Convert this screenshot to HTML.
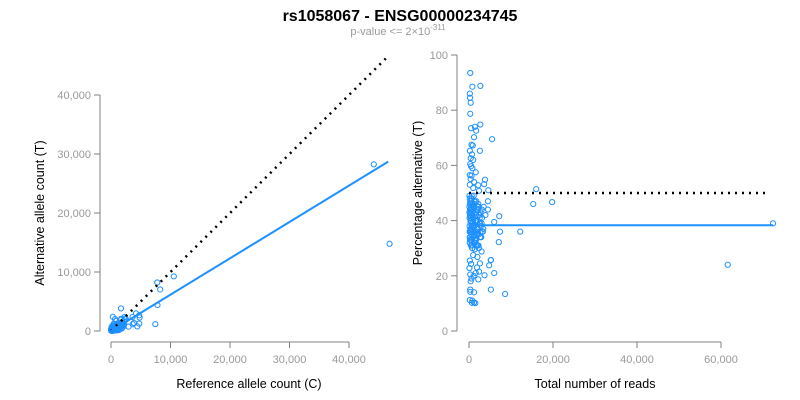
<!DOCTYPE html>
<html><head><meta charset="utf-8">
<style>
html,body{margin:0;padding:0;background:#fff;}
svg{display:block;font-family:"Liberation Sans",Arial,sans-serif;}
</style></head>
<body>
<svg id="chart" width="800" height="400" viewBox="0 0 800 400">
<text x="400" y="21" text-anchor="middle" font-size="16" font-weight="bold" fill="#000">rs1058067 - ENSG00000234745</text>
<text x="398" y="35" text-anchor="middle" font-size="11" fill="#999">p-value &lt;= 2×10<tspan dy="-5" font-size="8">-311</tspan></text>
<g id="left"></g>
<g id="right"></g>
</svg>
<script>
// Data: [total reads, percentage alternative]
const totals = [300,800,2700,200,250,400,300,1400,2700,500,1700,1200,5500,600,900,200,2600,700,400,1000,300,500,800,1600,200,600,400,3800,1200,3600,200,2200,1000,4600,16000,2400,19800,15300,72400,61600,12200,8600,7200,7100,7400,5200,6000,5200,6000,4500,4500,
200,500,2600,5200,4800,1900,100,300,1100,1600,2400,3700,600,2200,400,300,300,1200,200,800,700,1500,1200,2000,1000,3000,1400,
100,150,200,250,300,350,400,450,500,550,600,650,700,750,800,850,900,950,1000,1100,1200,1300,1400,1500,1600,1700,1800,1900,2000,2100,2200,2300,2500,2700,2900,3100,3300,3500,
120,180,260,330,420,520,640,760,880,1050,1250,1450,1650,1850,2050,2250,2450,2650,2850,3050,3400,
140,220,310,380,470,580,690,820,940,1150,1350,1550,1750,1950,2150,2350,2550,2800,3200,3900,
160,240,350,440,540,660,780,920,1080,1280,1480,1680,1880,2080,2300,2600,3000,
110,190,280,360,460,560,680,800,960,1120,1320,1520,1720,1920,2120,2400,2750];
const percents = [93.5,88.5,88.8,86,84.5,82.7,78.7,74,74.8,73.5,72.6,70.2,69.5,67.5,67.2,65.3,65.3,64,62.6,62,60.5,59.7,59,57.5,56.5,56.3,55,54.8,54,53.2,53,52.8,51.8,51,51.4,50.8,46.7,46,39,24,36,13.4,41.6,32.2,36,25.7,21,15,39.5,47,44,
25.5,24.3,24.5,25.7,23.8,23,22.8,20.5,20,21,21.5,20.2,19,18.7,18,15,14.2,14,11.2,11,10.2,10.1,10.3,26.8,27.5,28.8,29.6,
45,38,48,33,42,36,47,31,40,44,35,49,37,43,30,46,39,34,41,45,32,38,47,36,42,33,40,44,31,37,46,35,39,43,34,41,36,45,
49,32,44,37,41,35,46,30,43,38,47,33,40,36,45,31,42,39,34,44,37,
41,46,34,43,37,48,31,42,36,45,33,40,47,35,44,30,41,38,36,42,
36,42,39,47,33,44,38,41,35,46,32,43,37,40,45,34,39,
43,34,47,40,36,45,33,42,38,49,35,41,31,44,37,42,36];
const leftXTicks = [0,10000,20000,30000,40000];
const leftYTicks = [0,10000,20000,30000,40000];
const rightXTicks = [0,20000,40000,60000];
const rightYTicks = [0,20,40,60,80,100];
const fitSlope = [0.616];
const fitPct = [38.3];
const nullPct = [50];
const nullSlope = [1];

const NS='http://www.w3.org/2000/svg';
function mk(parent,tag,attrs){const e=document.createElementNS(NS,tag);for(const k in attrs)e.setAttribute(k,attrs[k]);parent.appendChild(e);return e;}
const fmt=v=>v.toLocaleString('en-US');
const BLUE='#1E90FF', AX='#808080', TK='#999';

const lx=v=>111+v*(238/40000), ly=v=>331-v*(236/40000);
const rx=v=>469+v*(252/60000), ry=v=>331-v*(276/100);

function axes(g,xs,ys,xf,yf,yAxisX,xAxisY,xl,yl,xt,yt){
  const ya=mk(g,'line',{x1:yAxisX,x2:yAxisX,y1:yf(ys[ys.length-1]),y2:yf(ys[0]),stroke:AX});
  
  
  ys.forEach(v=>{
    const t=mk(g,'line',{x1:yAxisX-6,x2:yAxisX,y1:yf(v),y2:yf(v),stroke:AX});
    
    
    const l=mk(g,'text',{x:yAxisX-9,y:yf(v)+4,'text-anchor':'end','font-size':11,fill:TK});
    
    
    l.textContent=fmt(v);
  });
  const xa=mk(g,'line',{x1:xf(xs[0]),x2:xf(xs[xs.length-1]),y1:xAxisY,y2:xAxisY,stroke:AX});
  
  
  xs.forEach(v=>{
    const t=mk(g,'line',{x1:xf(v),x2:xf(v),y1:xAxisY,y2:xAxisY+6,stroke:AX});
    
    
    const l=mk(g,'text',{x:xf(v),y:xAxisY+21,'text-anchor':'middle','font-size':11,fill:TK});
    
    
    l.textContent=fmt(v);
  });
  const xtl=mk(g,'text',{x:xt[0],y:xt[1],'text-anchor':'middle','font-size':12.5,fill:'#000'});
  
  
  xtl.textContent=xl;
  const ytl=mk(g,'text',{x:0,y:0,'text-anchor':'middle','font-size':12.5,fill:'#000',transform:`translate(${yt[0]},${yt[1]}) rotate(-90)`});
  
  
  ytl.textContent=yl;
}

const L=document.getElementById('left'), R=document.getElementById('right');
axes(L,leftXTicks,leftYTicks,lx,ly,100,342,'Reference allele count (C)','Alternative allele count (T)',[249,388],[44,213]);
axes(R,rightXTicks,rightYTicks,rx,ry,457,342,'Total number of reads','Percentage alternative (T)',[595,388],[422,193]);

const maxRef=46600;
totals.forEach((t,i)=>{
  const alt=t*percents[i]/100, ref=t-alt;
  const c=mk(L,'circle',{cx:lx(ref),cy:ly(alt),r:2.6,fill:'none',stroke:BLUE,'stroke-width':1});
  
  
});
const nl=mk(L,'line',{x1:lx(0),y1:ly(0),x2:lx(maxRef),y2:ly(maxRef*nullSlope[0]),stroke:'#000','stroke-width':2.5,'stroke-dasharray':'2 5'});


const fl=mk(L,'line',{x1:lx(0),y1:ly(0),x2:lx(maxRef),y2:ly(maxRef*fitSlope[0]),stroke:BLUE,'stroke-width':2});



totals.forEach((t,i)=>{
  const c=mk(R,'circle',{cx:rx(t),cy:ry(percents[i]),r:2.6,fill:'none',stroke:BLUE,'stroke-width':1});
  
  
});
const nr=mk(R,'line',{x1:rx(0),y1:ry(nullPct[0]),x2:rx(71000),y2:ry(nullPct[0]),stroke:'#000','stroke-width':2.5,'stroke-dasharray':'2 5'});


const fr=mk(R,'line',{x1:rx(0),y1:ry(fitPct[0]),x2:rx(72400),y2:ry(fitPct[0]),stroke:BLUE,'stroke-width':2});


</script>
</body></html>
